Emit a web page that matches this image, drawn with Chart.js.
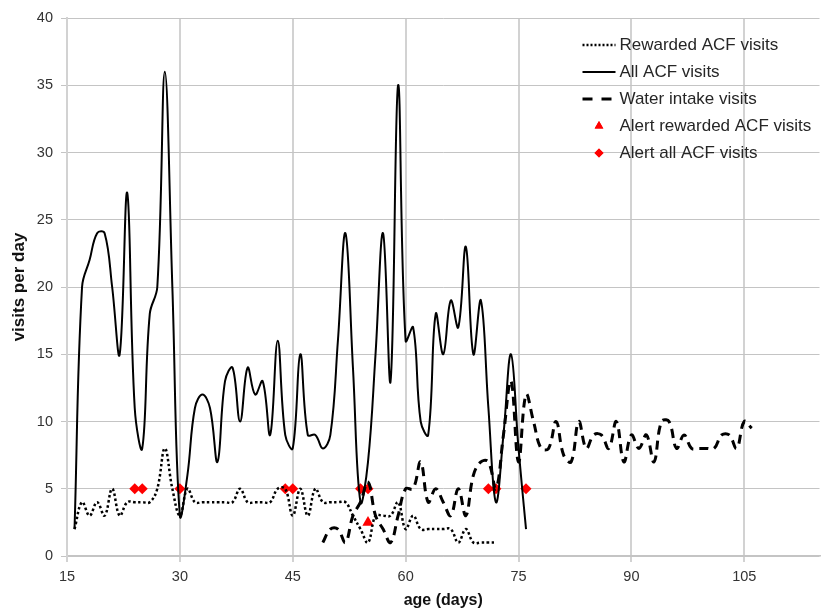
<!DOCTYPE html>
<html>
<head>
<meta charset="utf-8">
<script src="https://cdn.jsdelivr.net/npm/chart.js@4.4.1/dist/chart.umd.min.js"></script>
<style>
  html, body { margin: 0; padding: 0; background: #fff; }
  #wrap { width: 826px; height: 612px; }
</style>
</head>
<body>
<div id="wrap"><canvas id="chart" width="826" height="612"></canvas></div>
<script>
// age (days) of the first value of each daily series
const rewardedStart = 16;
const allStart = 16;
const waterStart = 49;

// visits per day, one value per day
const rewardedVisits = [2, 4, 3, 4, 3, 5, 3, 4, 4, 4, 4, 5, 8, 5, 3, 5, 4, 4, 4, 4, 4, 4, 5, 4, 4, 4, 4, 5, 5, 3,
    5, 3, 5, 4, 4, 4, 4, 3, 2, 1, 3, 3, 3, 4, 2, 3, 2, 2, 2, 2, 2, 1, 2, 1, 1, 1, 1];
const allVisits = [2, 20, 22, 24, 24, 20, 15, 27, 11, 8, 18, 20, 36, 20, 3, 6, 11, 12, 11, 7, 13, 14, 10, 14, 12,
    13, 9, 16, 9, 8, 15, 9, 9, 8, 9, 16, 24, 14, 4, 7, 15, 24, 13, 35, 16, 17, 10, 9, 18, 15, 19, 17, 23, 15, 19,
    11, 4, 9, 15, 8, 2];
const waterVisits = [1, 2, 2, 1, 3, 4, 5.5, 3, 2, 1, 3, 5, 5, 7, 4, 5, 4, 3, 5, 3, 6, 7, 7, 5, 9, 13, 7, 12, 10, 8,
    8, 10, 7.5, 7, 10, 8, 9, 9, 8, 10, 7, 9, 8, 9, 7, 10, 10, 8, 9, 8, 8, 8, 8, 9, 9, 8, 10, 9.5];

// alerts
const alertRewardedDays = [55];
const alertRewardedValues = [2.5];
const alertAllDays = [24, 25, 30, 44, 45, 54, 55, 71, 72, 76];
const alertAllValues = [5, 5, 5, 5, 5, 5, 5, 5, 5, 5];

// axis ticks
const xTicks = [15, 30, 45, 60, 75, 90, 105];
const yTicks = [0, 5, 10, 15, 20, 25, 30, 35, 40];

const FONT = '"Liberation Sans", Arial, sans-serif';
const GRID = '#c4c4c4';

function dailyPoints(start, values) {
    return values.map((v, i) => ({x: start + i, y: v}));
}
function pairPoints(days, values) {
    return days.map((d, i) => ({x: d, y: values[i]}));
}

// Legend drawn inside the plot area, top right
const insideLegend = {
    id: 'insideLegend',
    afterDraw(chart) {
        const ctx = chart.ctx;
        const area = chart.chartArea;
        const x0 = area.right - 237, x1 = area.right - 204, tx = area.right - 200;
        let y = area.top + 27;
        ctx.save();
        ctx.font = '17px ' + FONT;
        ctx.textBaseline = 'middle';
        ctx.textAlign = 'left';
        for (let ds of chart.data.datasets) {
            if (ds.showLine === false) {
                ctx.fillStyle = ds.backgroundColor;
                Chart.helpers.drawPoint(ctx, {
                    pointStyle: ds.pointStyle,
                    radius: ds.legendRadius,
                    rotation: 0,
                    borderWidth: 0
                }, (x0 + x1) / 2, y);
                ctx.fill();
            } else {
                ctx.strokeStyle = ds.borderColor;
                ctx.lineWidth = ds.borderWidth;
                ctx.setLineDash(ds.legendDash || []);
                ctx.beginPath();
                ctx.moveTo(x0, y);
                ctx.lineTo(x1, y);
                ctx.stroke();
                ctx.setLineDash([]);
            }
            ctx.fillStyle = '#262626';
            ctx.fillText(ds.label, tx, y);
            y += 27;
        }
        ctx.restore();
    }
};

const ctx = document.getElementById('chart');
new Chart(ctx, {
    type: 'line',
    data: {
        datasets: [
            {
                label: 'Rewarded ACF visits',
                data: dailyPoints(rewardedStart, rewardedVisits),
                borderColor: '#000',
                borderWidth: 2.5,
                borderDash: [2.5, 2.5],
                legendDash: [2, 2],
                pointRadius: 0,
                tension: 0.4,
                fill: false
            },
            {
                label: 'All ACF visits',
                data: dailyPoints(allStart, allVisits),
                borderColor: '#000',
                borderWidth: 2,
                pointRadius: 0,
                tension: 0.4,
                fill: false
            },
            {
                label: 'Water intake visits',
                data: dailyPoints(waterStart, waterVisits),
                borderColor: '#000',
                borderWidth: 3,
                borderDash: [9, 6],
                legendDash: [10, 9],
                pointRadius: 0,
                tension: 0.4,
                fill: false
            },
            {
                label: 'Alert rewarded ACF visits',
                data: pairPoints(alertRewardedDays, alertRewardedValues),
                showLine: false,
                pointStyle: 'triangle',
                pointRadius: 6.5,
                legendRadius: 5,
                backgroundColor: '#ff0000',
                borderColor: '#ff0000',
                borderWidth: 0
            },
            {
                label: 'Alert all ACF visits',
                data: pairPoints(alertAllDays, alertAllValues),
                showLine: false,
                pointStyle: 'rectRot',
                pointRadius: 5.5,
                legendRadius: 4.5,
                backgroundColor: '#ff0000',
                borderColor: '#ff0000',
                borderWidth: 0
            }
        ]
    },
    options: {
        responsive: false,
        animation: false,
        devicePixelRatio: 1,
        layout: {padding: {top: 18, right: 6, left: 0, bottom: 0}},
        plugins: {
            legend: {display: false},
            tooltip: {enabled: false}
        },
        scales: {
            x: {
                type: 'linear',
                min: 15,
                max: 115,
                afterBuildTicks: s => { s.ticks = xTicks.map(v => ({value: v})); },
                afterFit: s => { s.height = 56; },
                grid: {color: '#d2d2d2', lineWidth: 2, tickLength: 6},
                border: {color: GRID, width: 1.5},
                ticks: {color: '#333', font: {family: FONT, size: 14.5}, padding: 6, maxRotation: 0},
                title: {
                    display: true,
                    text: 'age (days)',
                    color: '#111',
                    font: {family: FONT, size: 16, weight: 'bold'},
                    padding: {top: 0, bottom: 2}
                }
            },
            y: {
                min: 0,
                max: 40,
                afterBuildTicks: s => { s.ticks = yTicks.map(v => ({value: v})); },
                afterFit: s => { s.width = 67; },
                grid: {color: GRID, lineWidth: 1, tickLength: 6},
                border: {color: '#d2d2d2', width: 2},
                ticks: {color: '#333', font: {family: FONT, size: 14.5}, padding: 8},
                title: {
                    display: true,
                    text: 'visits per day',
                    color: '#111',
                    font: {family: FONT, size: 17, weight: 'bold'},
                    padding: {top: 9, bottom: 0}
                }
            }
        }
    },
    plugins: [insideLegend]
});
</script>
</body>
</html>
